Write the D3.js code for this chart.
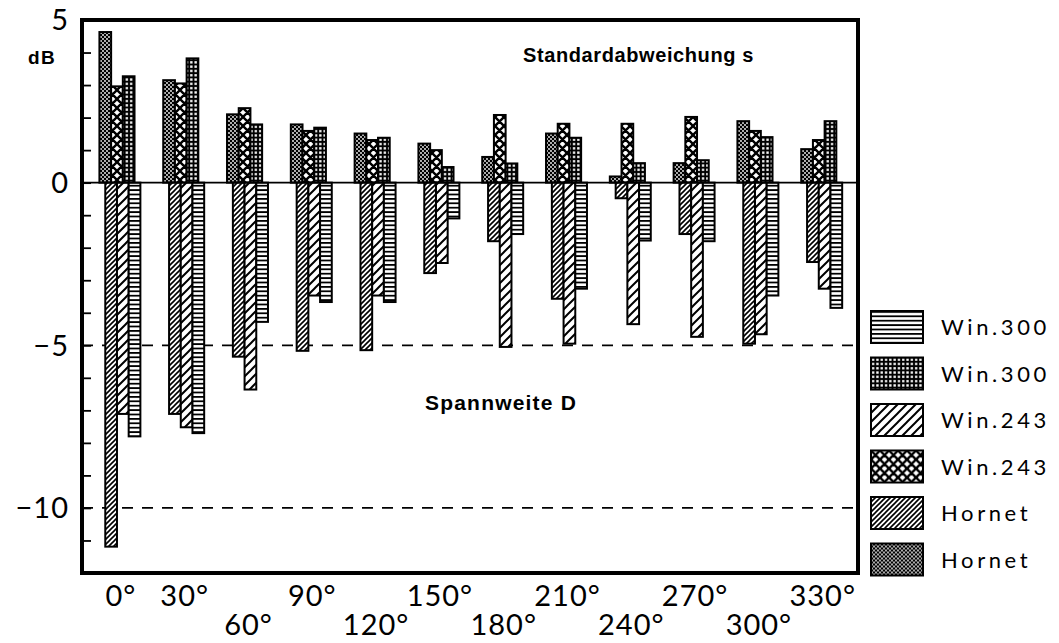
<!DOCTYPE html>
<html>
<head>
<meta charset="utf-8">
<script src="https://cdn.jsdelivr.net/npm/d3@7"></script>
<style>
  html, body { margin: 0; padding: 0; background: #fff; }
  svg { display: block; }
</style>
</head>
<body>
<svg id="chart" width="1059" height="643"></svg>
<script>
// Direction angles (degrees)
const angles = [0, 30, 60, 90, 120, 150, 180, 210, 240, 270, 300, 330];

// Standardabweichung s (dB), drawn upward
const sHornet = [4.63, 3.15, 2.10, 1.79, 1.51, 1.20, 0.79, 1.51, 0.19, 0.60, 1.89, 1.03];
const sWin243 = [2.96, 3.05, 2.29, 1.59, 1.31, 1.00, 2.08, 1.81, 1.81, 2.02, 1.59, 1.31];
const sWin300 = [3.27, 3.82, 1.79, 1.69, 1.38, 0.48, 0.59, 1.38, 0.60, 0.69, 1.40, 1.89];

// Spannweite D (dB), drawn downward
const dHornet = [-11.19, -7.11, -5.35, -5.17, -5.15, -2.78, -1.80, -3.57, -0.48, -1.58, -4.95, -2.44];
const dWin243 = [-7.11, -7.52, -6.36, -3.47, -3.47, -2.47, -5.05, -4.95, -4.35, -4.74, -4.66, -3.26];
const dWin300 = [-7.80, -7.70, -4.28, -3.67, -3.67, -1.10, -1.58, -3.26, -1.78, -1.80, -3.47, -3.85];

const yTickLabels = [5, 0, -5, -10];
const refLines = [-5, -10];
const xLabelRow = [0, 0, 1, 0, 1, 0, 1, 0, 1, 0, 1, 0];

// series: name, values, fill pattern, slot within cluster (half-bar steps)
const series = [
  { name: "Hornet", values: sHornet, pat: "p-dots",   slot: 0 },
  { name: "Win.243", values: sWin243, pat: "p-cross", slot: 2 },
  { name: "Win.300", values: sWin300, pat: "p-grid",  slot: 4 },
  { name: "Hornet", values: dHornet, pat: "p-fine",   slot: 1 },
  { name: "Win.243", values: dWin243, pat: "p-coarse", slot: 3 },
  { name: "Win.300", values: dWin300, pat: "p-hline", slot: 5 }
];

const legendItems = [
  { label: "Win.300", pat: "p-hline" },
  { label: "Win.300", pat: "p-grid" },
  { label: "Win.243", pat: "p-coarse" },
  { label: "Win.243", pat: "p-cross" },
  { label: "Hornet", pat: "p-fine" },
  { label: "Hornet", pat: "p-dots" }
];

const svg = d3.select("#chart");
const frame = { left: 82, right: 858, top: 20, bottom: 573 };

const y = d3.scaleLinear().domain([-12, 5]).range([frame.bottom, frame.top]);
const x = d3.scaleBand().domain(angles).range([88, 853.6]).padding(0);
const barW = 11.7;
const clusterW = barW * 3.5;
const xs = d3.scaleBand().domain(d3.range(7))
  .range([x.bandwidth() / 2 - clusterW / 2, x.bandwidth() / 2 + clusterW / 2]);

// ---- fill patterns ----
const defs = svg.append("defs");

// horizontal lines
let p = defs.append("pattern").attr("id", "p-hline").attr("patternUnits", "userSpaceOnUse")
  .attr("width", 8).attr("height", 4.4);
p.append("rect").attr("width", 8).attr("height", 4.4).attr("fill", "#fff");
p.append("rect").attr("y", 0).attr("width", 8).attr("height", 1.8).attr("fill", "#000");

// grid of white squares on black
p = defs.append("pattern").attr("id", "p-grid").attr("patternUnits", "userSpaceOnUse")
  .attr("width", 4.3).attr("height", 4.3);
p.append("rect").attr("width", 4.3).attr("height", 4.3).attr("fill", "#000");
p.append("rect").attr("x", 1).attr("y", 1).attr("width", 2.3).attr("height", 2.3).attr("fill", "#fff");

// coarse diagonal
p = defs.append("pattern").attr("id", "p-coarse").attr("patternUnits", "userSpaceOnUse")
  .attr("width", 9).attr("height", 9);
p.append("rect").attr("width", 9).attr("height", 9).attr("fill", "#fff");
p.append("path").attr("d", "M-1,10 L10,-1 M-1,1 L1,-1 M8,10 L10,8")
  .attr("stroke", "#000").attr("stroke-width", 2);

// fine diagonal
p = defs.append("pattern").attr("id", "p-fine").attr("patternUnits", "userSpaceOnUse")
  .attr("width", 5).attr("height", 5);
p.append("rect").attr("width", 5).attr("height", 5).attr("fill", "#fff");
p.append("path").attr("d", "M-1,6 L6,-1 M-1,1 L1,-1 M4,6 L6,4")
  .attr("stroke", "#000").attr("stroke-width", 1.6);

// diamond lattice
p = defs.append("pattern").attr("id", "p-cross").attr("patternUnits", "userSpaceOnUse")
  .attr("width", 9).attr("height", 9);
p.append("rect").attr("width", 9).attr("height", 9).attr("fill", "#fff");
p.append("path").attr("d", "M0,0 L9,9 M9,0 L0,9 M-1,8 L1,10 M8,-1 L10,1 M-1,1 L1,-1 M8,10 L10,8")
  .attr("stroke", "#000").attr("stroke-width", 2.4);

// fine white dots on black
p = defs.append("pattern").attr("id", "p-dots").attr("patternUnits", "userSpaceOnUse")
  .attr("width", 4).attr("height", 4);
p.append("rect").attr("width", 4).attr("height", 4).attr("fill", "#000");
p.append("circle").attr("cx", 1).attr("cy", 1).attr("r", 0.9).attr("fill", "#fff");
p.append("circle").attr("cx", 3).attr("cy", 3).attr("r", 0.9).attr("fill", "#fff");

// ---- reference lines ----
svg.append("g").selectAll("line").data(refLines).join("line")
  .attr("x1", frame.left).attr("x2", frame.right)
  .attr("y1", d => y(d)).attr("y2", d => y(d))
  .attr("stroke", "#000").attr("stroke-width", 1.8)
  .attr("stroke-dasharray", "11,9");

// ---- bars ----
const gBars = svg.append("g");
series.forEach(s => {
  gBars.append("g").selectAll("rect").data(s.values).join("rect")
    .attr("x", (d, i) => x(angles[i]) + xs(s.slot))
    .attr("width", xs.step() * 2)
    .attr("y", d => y(Math.max(0, d)))
    .attr("height", d => Math.abs(y(d) - y(0)))
    .attr("fill", `url(#${s.pat})`)
    .attr("stroke", "#000").attr("stroke-width", 2);
});

// zero line
svg.append("line")
  .attr("x1", frame.left).attr("x2", frame.right)
  .attr("y1", y(0)).attr("y2", y(0))
  .attr("stroke", "#000").attr("stroke-width", 1.6);

// ---- frame ----
svg.append("rect")
  .attr("x", frame.left).attr("y", frame.top)
  .attr("width", frame.right - frame.left).attr("height", frame.bottom - frame.top)
  .attr("fill", "none").attr("stroke", "#000").attr("stroke-width", 4);

// ---- y axis: inward ticks every 1 dB, labels every 5 dB ----
const yAxis = d3.axisRight(y).tickValues(d3.range(-12, 6)).tickSize(9).tickFormat("");
const gy = svg.append("g").attr("transform", `translate(${frame.left},0)`).call(yAxis);
gy.select(".domain").remove();
gy.selectAll(".tick line").attr("stroke", "#000").attr("stroke-width", 1.8);

svg.append("g").selectAll("text").data(yTickLabels).join("text")
  .attr("x", 69).attr("y", d => y(d)).attr("dy", "0.36em")
  .attr("text-anchor", "end")
  .attr("font-family", "Lato, 'Open Sans', sans-serif")
  .attr("font-size", 29).attr("letter-spacing", 1)
  .text(d => d < 0 ? "\u2212" + Math.abs(d) : d);

svg.append("text").attr("x", 28).attr("y", 64)
  .attr("font-family", "'Liberation Sans', Arial, sans-serif")
  .attr("font-weight", "bold").attr("font-size", 19).attr("letter-spacing", 1.5)
  .text("dB");

// ---- x labels (two staggered rows) ----
svg.append("g").selectAll("text").data(angles).join("text")
  .attr("x", d => x(d) + x.bandwidth() / 2 + 1)
  .attr("y", (d, i) => xLabelRow[i] ? 635 : 606)
  .attr("text-anchor", "middle")
  .attr("font-family", "Lato, 'Open Sans', sans-serif")
  .attr("font-size", 29).attr("letter-spacing", 1)
  .text(d => d + "°");

// ---- titles ----
svg.append("text").attr("x", 523).attr("y", 62)
  .attr("font-family", "'Liberation Sans', Arial, sans-serif")
  .attr("font-weight", "bold").attr("font-size", 20).attr("letter-spacing", 0.6)
  .text("Standardabweichung s");
svg.append("text").attr("x", 425).attr("y", 410)
  .attr("font-family", "'Liberation Sans', Arial, sans-serif")
  .attr("font-weight", "bold").attr("font-size", 21).attr("letter-spacing", 1.2)
  .text("Spannweite D");

// ---- legend ----
const lg = svg.append("g").selectAll("g").data(legendItems).join("g")
  .attr("transform", (d, i) => `translate(871,${311 + i * 46.5})`);
lg.append("rect").attr("width", 52).attr("height", 32)
  .attr("fill", d => `url(#${d.pat})`).attr("stroke", "#000").attr("stroke-width", 2);
lg.append("text").attr("x", 70).attr("y", 24)
  .attr("font-family", "Lato, 'Open Sans', sans-serif")
  .attr("font-size", 22).attr("letter-spacing", 3.6)
  .text(d => d.label);
</script>
</body>
</html>
